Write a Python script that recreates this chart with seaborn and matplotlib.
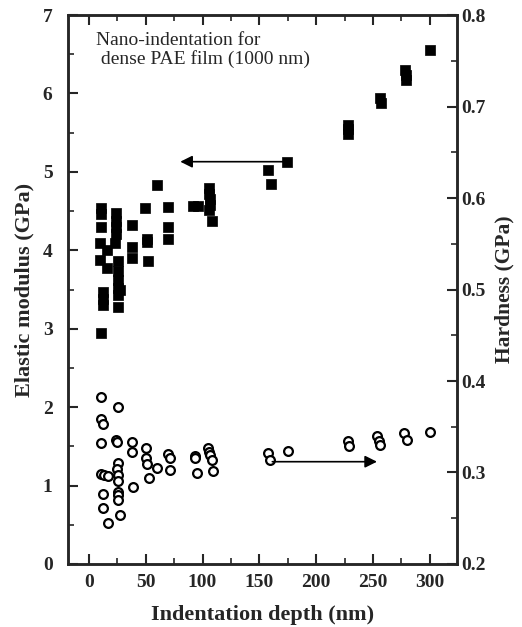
import numpy as np
import pandas as pd
import seaborn as sns
import matplotlib.pyplot as plt
from matplotlib.ticker import MultipleLocator

sns.set_style("ticks")
plt.rcParams['font.family'] = ['Liberation Serif', 'DejaVu Serif']
plt.rcParams['font.weight'] = 'bold'

# elastic modulus (filled squares, left axis)
depthE = [11, 11, 11, 10, 10, 12, 12, 12, 11,
          16, 16,
          24, 24, 24, 24, 23,
          26, 26, 26, 26, 26, 27, 26,
          38, 38, 38,
          49, 51, 51, 52,
          60,
          70, 70, 70,
          92, 96,
          106, 106, 107, 107, 106, 108,
          158, 160, 174,
          228, 228, 228,
          256, 257,
          278, 279, 279,
          300]
modulus = [4.54, 4.46, 4.30, 4.09, 3.88, 3.47, 3.38, 3.30, 2.95,
           4.00, 3.78,
           4.47, 4.38, 4.30, 4.21, 4.09,
           3.86, 3.74, 3.62, 3.52, 3.43, 3.49, 3.28,
           4.32, 4.04, 3.90,
           4.54, 4.15, 4.11, 3.86,
           4.83,
           4.55, 4.30, 4.14,
           4.56, 4.57,
           4.80, 4.72, 4.65, 4.58, 4.52, 4.37,
           5.03, 4.85, 5.13,
           5.60, 5.55, 5.48,
           5.94, 5.88,
           6.30, 6.24, 6.17,
           6.56]

# hardness (open circles, right axis)
depthH = [11, 26, 11, 12, 11, 24, 25, 38, 38, 50, 50, 51, 60, 53,
          70, 71, 71, 93, 93, 95, 105, 106, 107, 108, 109,
          26, 25, 26, 26, 11, 13, 17, 26, 26, 26, 39, 12, 12, 17, 27,
          158, 159, 175, 228, 229, 254, 255, 256, 277, 280, 300]
hardness = [0.383, 0.372, 0.358, 0.353, 0.332, 0.3355, 0.3337, 0.3337, 0.322, 0.3265, 0.3155, 0.309, 0.305, 0.294,
            0.320, 0.3155, 0.3027, 0.318, 0.3155, 0.299, 0.327, 0.3227, 0.319, 0.3137, 0.3016,
            0.310, 0.304, 0.297, 0.291, 0.298, 0.297, 0.296, 0.279, 0.2754, 0.270, 0.2845, 0.2765, 0.2615, 0.245, 0.2535,
            0.321, 0.3137, 0.324, 0.3348, 0.329, 0.340, 0.3348, 0.330, 0.3428, 0.3355, 0.344]

dfE = pd.DataFrame({'depth': depthE, 'E': modulus})
dfH = pd.DataFrame({'depth': depthH, 'H': hardness})

fig = plt.figure(figsize=(5.22, 6.27), dpi=100)
ax = fig.add_axes([0.130, 0.1005, 0.7455, 0.8755])
ax2 = ax.twinx()

sns.scatterplot(data=dfE, x='depth', y='E', marker='s', s=60, color='black',
                edgecolor='black', linewidth=0.5, ax=ax, zorder=3)
sns.scatterplot(data=dfH, x='depth', y='H', marker='o', s=40, facecolor='white',
                edgecolor='black', linewidth=1.6, ax=ax2, zorder=3)

ax.set_xlim(-18.5, 324)
ax.set_ylim(0, 7)
ax2.set_ylim(0.2, 0.8)

ax.xaxis.set_major_locator(MultipleLocator(50))
ax.xaxis.set_minor_locator(MultipleLocator(25))
ax.yaxis.set_major_locator(MultipleLocator(1))
ax.yaxis.set_minor_locator(MultipleLocator(0.5))
ax2.yaxis.set_major_locator(MultipleLocator(0.1))
ax2.yaxis.set_minor_locator(MultipleLocator(0.05))

ax.tick_params(axis='x', which='both', direction='in', top=True, bottom=True)
ax.tick_params(axis='y', which='both', direction='in', left=True, right=False)
ax2.tick_params(axis='y', which='both', direction='in', right=True)
for a in (ax, ax2):
    a.tick_params(which='major', length=7, width=1.5, labelsize=14)
    a.tick_params(which='minor', length=4, width=1.2)
    for sp in a.spines.values():
        sp.set_linewidth(1.8)
ax.tick_params(axis='x', which='major', pad=7)
ax.tick_params(axis='y', which='major', pad=11)
ax2.tick_params(axis='y', which='major', pad=3)

ax.set_xlabel('Indentation depth (nm)', fontsize=16, fontweight='bold', labelpad=10)
ax.set_ylabel('Elastic modulus (GPa)', fontsize=16, fontweight='bold', labelpad=6)
ax2.set_ylabel('Hardness (GPa)', fontsize=15.5, fontweight='bold', labelpad=6)

ax.text(6, 6.78, 'Nano-indentation for\n dense PAE film (1000 nm)', fontsize=14,
        fontweight='normal', va='top', ha='left', linespacing=1.05)

# arrows pointing to the axis each series belongs to
ax.annotate('', xy=(78, 5.13), xytext=(175, 5.13),
            arrowprops=dict(arrowstyle='-|>', color='black', lw=1.2, mutation_scale=18))
ax2.annotate('', xy=(256, 0.3118), xytext=(159, 0.3118),
             arrowprops=dict(arrowstyle='-|>', color='black', lw=1.2, mutation_scale=18))

fig.savefig('out.png', dpi=100)
